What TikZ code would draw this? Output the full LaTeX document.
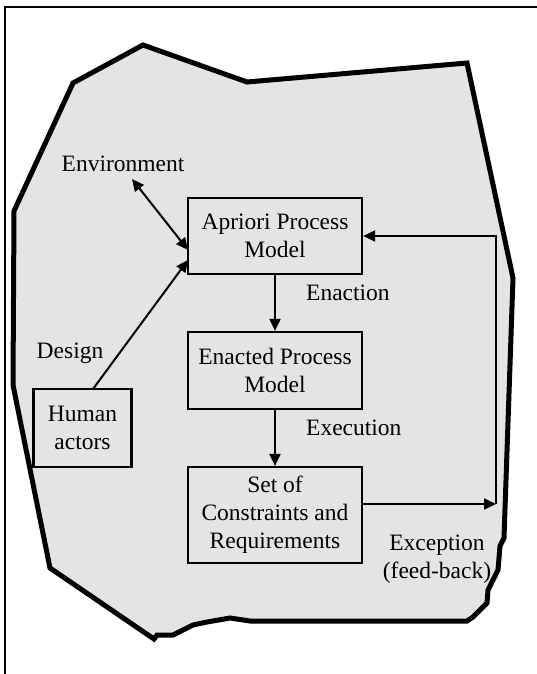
\documentclass[tikz,border=0pt]{standalone}
\usepackage{fontspec}
\setmainfont{Liberation Serif}
\usetikzlibrary{arrows.meta}
\definecolor{areagray}{HTML}{E4E4E4}
\tikzset{
  box/.style={draw, line width=2.2pt, inner sep=0pt, align=center, font=\fontsize{23.5}{28}\selectfont},
  lbl/.style={inner sep=0pt, align=center, font=\fontsize{23.5}{28}\selectfont},
  tip/.tip={Triangle[length=12pt,width=11pt]},
  conn/.style={line width=2pt, -tip},
  border/.style={line width=5pt, line join=miter, miter limit=4, fill=areagray}
}
\begin{document}
\begin{tikzpicture}[x=1pt,y=-1pt]
\useasboundingbox (0,0) rectangle (537,674);
% outer frame
\draw[line width=2.4pt] (5,680) -- (5,7) -- (545,7);
% region
\draw[border] (143,45) -- (247,82) -- (467,63) -- (513,278) -- (504,538)
  -- (500,546) -- (498,570) -- (493,580) -- (488,590) -- (487,603)
  -- (480,610) -- (473,617) -- (467,621) -- (250,621) -- (230,618)
  -- (207,622) -- (193,625) -- (173,635) -- (157,635) -- (154,639)
  -- (50,568) -- (13,385) -- (14,211) -- (73,83) -- cycle;
% boxes
\node[box, minimum width=174pt, minimum height=76pt] (apriori) at (275,236) {Apriori Process\\Model};
\node[box, minimum width=174pt, minimum height=77pt] (enacted) at (275,370.5) {Enacted Process\\Model};
\node[box, minimum width=174pt, minimum height=96pt] (cons) at (275,515) {Set of\\Constraints and\\Requirements};
\node[box, minimum width=98pt, minimum height=78pt] (human) at (82.5,428) {Human\\actors};
% labels
\node[lbl] (env) at (123,164) {Environment};
\node[lbl] (design) at (70,353) {Design};
\node[lbl, anchor=west] (enaction) at (306,293) {Enaction};
\node[lbl, anchor=west] (execution) at (306,428) {Execution};
\node[lbl] (exception) at (437,559) {Exception\\(feed-back)};
% connectors
\coordinate (envtip) at (132,179);
\coordinate (envend) at (188,250);
\coordinate (desend) at (188,260);
\coordinate (humtop) at (93,389);
\coordinate (fb) at (496,504);
\draw[conn, tip-tip] (envtip) -- (envend);
\draw[conn] (humtop) -- (desend);
\draw[conn] (apriori.south) -- (enacted.north);
\draw[conn] (enacted.south) -- (cons.north);
\draw[conn] (cons.east |- fb) -- (fb);
\draw[conn] (fb) |- (apriori.east);
\end{tikzpicture}
\end{document}
